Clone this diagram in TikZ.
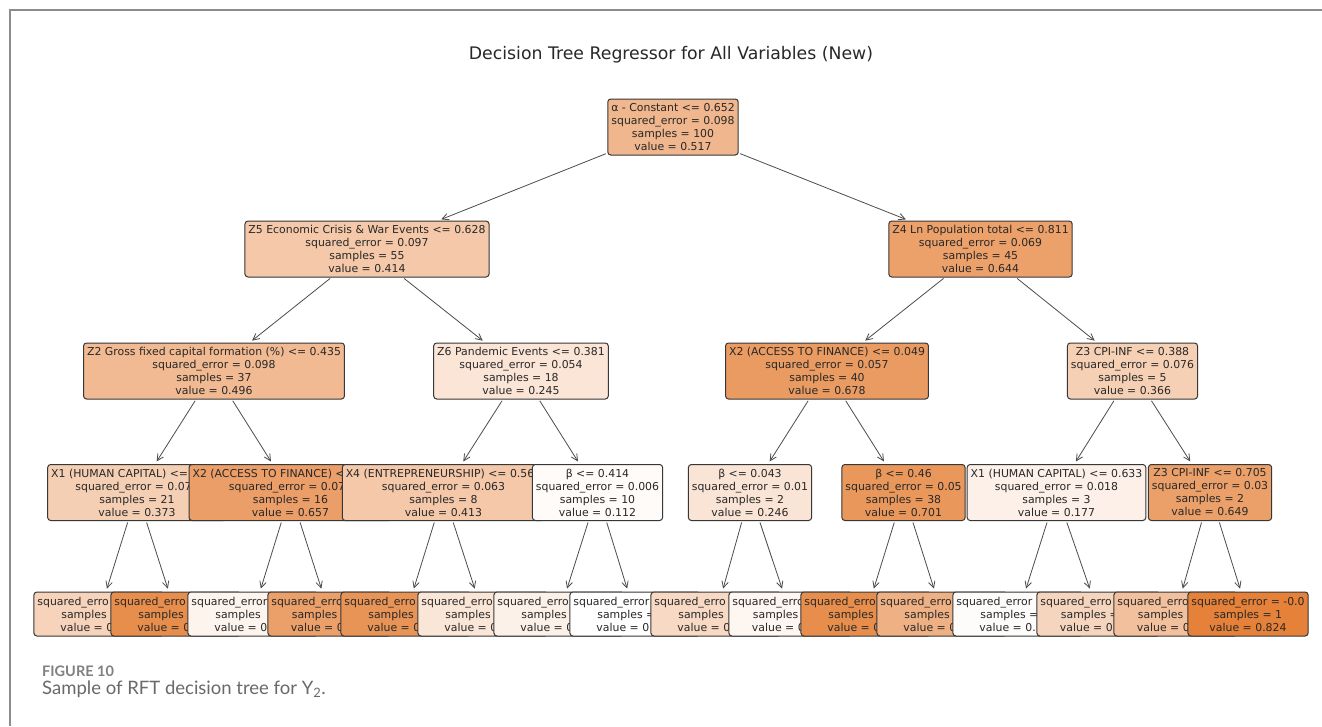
\documentclass[tikz,border=0pt]{standalone}
\usepackage{fontspec}
\setmainfont{DejaVu Sans}
\newfontfamily\capfont{Lato}
\usetikzlibrary{arrows.meta}
\definecolor{sk}{RGB}{229,129,57}
\definecolor{edgec}{RGB}{55,55,55}
\definecolor{txt}{RGB}{40,40,40}
\definecolor{framec}{RGB}{140,140,140}
\definecolor{capc}{RGB}{105,105,105}
\newcommand\tfont{\fontsize{10.9}{13}\selectfont}
\newcommand\ph[1]{\phantom{#1}}
\begin{document}
\begin{tikzpicture}[x=1pt,y=-1pt,
  tn/.style={draw=edgec, line width=1pt, rounded corners=3pt, align=center, font=\tfont, text=txt, inner xsep=3.5pt, inner ysep=2pt, minimum height=56pt},
  lf/.style={tn, minimum height=44pt},
  arr/.style={draw=black!70, line width=0.8pt, -{Straight Barb[length=6.5pt,width=6.5pt]}, shorten >=3pt, shorten <=1.5pt}]
\useasboundingbox (0,0) rectangle (1322,726);
\fill[white] (0,0) rectangle (1322,726);
\draw[framec, line width=1.5pt] (10,726) -- (10,10) -- (1322,10);
\node[font=\fontsize{17.3}{20}\selectfont, text=txt, anchor=base, inner sep=0pt] (title) at (671,59) {Decision Tree Regressor for All Variables (New)};
% level 0
\node[tn, fill=sk!57.7!white] (n0) at (673,127) {α - Constant <= 0.652\\squared\_error = 0.098\\samples = 100\\value = 0.517};
% level 1
\node[tn, fill=sk!43.8!white] (z5) at (367,249) {Z5 Economic Crisis \& War Events <= 0.628\\squared\_error = 0.097\\samples = 55\\value = 0.414};
\node[tn, fill=sk!74.9!white] (z4) at (980.5,249) {Z4 Ln Population total <= 0.811\\squared\_error = 0.069\\samples = 45\\value = 0.644};
% level 2
\node[tn, fill=sk!54.9!white] (z2) at (214,371) {Z2 Gross fixed capital formation (\%) <= 0.435\\squared\_error = 0.098\\samples = 37\\value = 0.496};
\node[tn, fill=sk!20.9!white] (z6) at (521,371) {Z6 Pandemic Events <= 0.381\\squared\_error = 0.054\\samples = 18\\value = 0.245};
\node[tn, fill=sk!79.5!white] (x2a) at (827,371) {X2 (ACCESS TO FINANCE) <= 0.049\\squared\_error = 0.057\\samples = 40\\value = 0.678};
\node[tn, fill=sk!37.3!white] (z3) at (1132.5,371) {Z3 CPI-INF <= 0.388\\squared\_error = 0.076\\samples = 5\\value = 0.366};
% level 3
\node[tn, fill=sk!38.2!white] (x1a) at (137,492.5) {X1 (HUMAN CAPITAL) <= \ph{0.000}\\squared\_error = 0.07\ph{0}\\samples = 21\\value = 0.373};
\node[tn, fill=sk!76.6!white] (x2b) at (290.5,492.5) {X2 (ACCESS TO FINANCE) <\ph{= 0.000}\\squared\_error = 0.07\ph{0}\\samples = 16\\value = 0.657};
\node[tn, fill=sk!43.6!white] (x4) at (443.5,492.5) {X4 (ENTREPRENEURSHIP) <= 0.56\ph{0}\\squared\_error = 0.063\\samples = 8\\value = 0.413};
\node[tn, fill=sk!3!white] (b414) at (597.5,492.5) {β <= 0.414\\squared\_error = 0.006\\samples = 10\\value = 0.112};
\node[tn, fill=sk!21.1!white] (b043) at (750,492.5) {β <= 0.043\\squared\_error = 0.01\\samples = 2\\value = 0.246};
\node[tn, fill=sk!82.6!white] (b46) at (903.5,492.5) {β <= 0.46\\squared\_error = 0.05\\samples = 38\\value = 0.701};
\node[tn, fill=sk!11.8!white] (x1b) at (1056.5,492.5) {X1 (HUMAN CAPITAL) <= 0.633\\squared\_error = 0.018\\samples = 3\\value = 0.177};
\node[tn, fill=sk!75.5!white] (z3b) at (1210,492.5) {Z3 CPI-INF <= 0.705\\squared\_error = 0.03\\samples = 2\\value = 0.649};
% leaves
\node[lf, fill=sk!35!white] (l1) at (99,614) {squared\_erro\ph{r = 0.000}\\samples\ph{ = 00}\\value = 0\ph{.000}};
\node[lf, fill=sk!90!white] (l2) at (176,614) {squared\_erro\ph{r = 0.000}\\samples\ph{ = 00}\\value = 0\ph{.000}};
\node[lf, fill=sk!9!white] (l3) at (253,614) {squared\_error\ph{ = 0.000}\\samples\ph{ = 00}\\value = 0\ph{.000}};
\node[lf, fill=sk!76!white] (l4) at (329.5,614) {squared\_erro\ph{r = 0.00}\\samples\ph{ = 00}\\value = 0\ph{.000}};
\node[lf, fill=sk!85!white] (l5) at (406,614) {squared\_erro\ph{r = 0.000}\\samples\ph{ = 00}\\value = 0\ph{.000}};
\node[lf, fill=sk!20!white] (l6) at (483,614) {squared\_erro\ph{r = 0.000}\\samples\ph{ = 00}\\value = 0\ph{.000}};
\node[lf, fill=sk!11!white] (l7) at (559,614) {squared\_erro\ph{r = 0.000}\\samples\ph{ = 00}\\value = 0\ph{.000}};
\node[lf, fill=white] (l8) at (635,614) {squared\_error\ph{ = 0.000}\\samples =\ph{ 00}\\value = 0\ph{.000}};
\node[lf, fill=sk!30!white] (l9) at (716,614) {squared\_erro\ph{r = 0.000}\\samples\ph{ = 00}\\value = 0\ph{.000}};
\node[lf, fill=sk!7!white] (l10) at (790.5,614) {squared\_erro\ph{r = 0.00}\\samples\ph{ = 00}\\value = 0\ph{.000}};
\node[lf, fill=sk!90!white] (l11) at (866,614) {squared\_erro\ph{r = 0.000}\\samples\ph{ = 00}\\value = 0\ph{.000}};
\node[lf, fill=sk!62!white] (l12) at (942,614) {squared\_erro\ph{r = 0.000}\\samples\ph{ = 00}\\value = 0\ph{.000}};
\node[lf, fill=sk!2!white] (l13) at (1018,614) {squared\_error\ph{ = 0.000}\\samples =\ph{ 00}\\value = 0.\ph{000}};
\node[lf, fill=sk!33!white] (l14) at (1098.5,614) {squared\_erro\ph{r = 0.00}\\samples =\ph{ 00}\\value = 0.\ph{000}};
\node[lf, fill=sk!50!white] (l15) at (1175.5,614) {squared\_erro\ph{r = 0.00}\\samples\ph{ = 00}\\value = 0\ph{.000}};
\node[lf, fill=sk!100!white] (l16) at (1248,614) {squared\_error = -0.0\\samples = 1\\value = 0.824};
% connectors
\foreach \a/\b in {n0/z5, n0/z4, z5/z2, z5/z6, z4/x2a, z4/z3, z2/x1a, z2/x2b, z6/x4, z6/b414, x2a/b043, x2a/b46, z3/x1b, z3/z3b, x1a/l1, x1a/l2, x2b/l3, x2b/l4, x4/l5, x4/l6, b414/l7, b414/l8, b043/l9, b043/l10, b46/l11, b46/l12, x1b/l13, x1b/l14, z3b/l15, z3b/l16}
  \draw[arr] (\a) -- (\b);
% caption
\node[anchor=base west, inner sep=0pt, font=\capfont\bfseries\fontsize{14.5}{17}\selectfont, text=capc!85] (fig) at (42,676) {FIGURE 10};
\node[anchor=base west, inner sep=0pt, font=\capfont\fontsize{18.5}{21}\selectfont, text=capc] (cap) at (42,694) {Sample of RFT decision tree for Y\textsubscript{2}.};
\end{tikzpicture}
\end{document}
